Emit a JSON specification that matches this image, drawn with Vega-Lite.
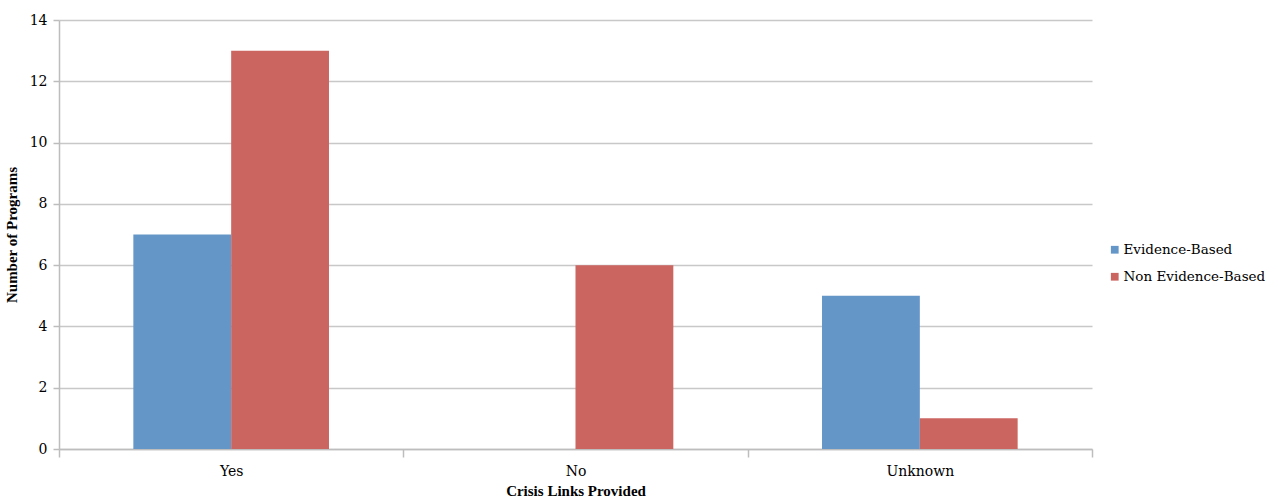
{
  "$schema": "https://vega.github.io/schema/vega-lite/v6.json",
  "width": 1033,
  "height": 429,
  "autosize": {"type": "none"},
  "padding": {"left": 59, "top": 20, "right": 180, "bottom": 54},
  "background": "white",
  "data": {
    "values": [
      {"category": "Yes", "type": "Evidence-Based", "count": 7},
      {"category": "Yes", "type": "Non Evidence-Based", "count": 13},
      {"category": "No", "type": "Evidence-Based", "count": 0},
      {"category": "No", "type": "Non Evidence-Based", "count": 6},
      {"category": "Unknown", "type": "Evidence-Based", "count": 5},
      {"category": "Unknown", "type": "Non Evidence-Based", "count": 1}
    ]
  },
  "config": {
    "font": "Liberation Serif",
    "view": {"stroke": null},
    "axis": {
      "labelFontSize": 14,
      "titleFontSize": 15,
      "labelColor": "#000000",
      "titleColor": "#000000",
      "domainColor": "#bdbdbd",
      "tickColor": "#bdbdbd",
      "gridColor": "#c8c8c8",
      "domainWidth": 1.5,
      "tickWidth": 1.5,
      "gridWidth": 1.5
    }
  },
  "mark": {"type": "bar"},
  "encoding": {
    "x": {
      "field": "category",
      "type": "nominal",
      "sort": ["Yes", "No", "Unknown"],
      "scale": {"paddingInner": 0, "paddingOuter": 0},
      "axis": {
        "title": "Crisis Links Provided",
        "titleFontWeight": "bold",
        "labelFont": "DejaVu Serif",
        "titleFont": "Liberation Serif",
        "labelAngle": 0,
        "labelPadding": 7,
        "titlePadding": 5,
        "tickBand": "extent",
        "tickSize": 8,
        "grid": false
      }
    },
    "xOffset": {
      "field": "type",
      "type": "nominal",
      "sort": ["Evidence-Based", "Non Evidence-Based"],
      "scale": {"paddingInner": 0, "paddingOuter": 0.76}
    },
    "y": {
      "field": "count",
      "type": "quantitative",
      "scale": {"domain": [0, 14]},
      "axis": {
        "title": "Number of Programs",
        "titleFontWeight": "bold",
        "labelFont": "DejaVu Serif",
        "titleFont": "Liberation Serif",
        "values": [0, 2, 4, 6, 8, 10, 12, 14],
        "tickSize": 6,
        "labelPadding": 6,
        "titlePadding": 10,
        "grid": true
      }
    },
    "color": {
      "field": "type",
      "type": "nominal",
      "sort": ["Evidence-Based", "Non Evidence-Based"],
      "scale": {"range": ["#6497C8", "#CB6560"]},
      "legend": {
        "title": null,
        "orient": "none",
        "legendX": 1049,
        "legendY": 223,
        "symbolType": "square",
        "symbolSize": 60,
        "symbolStrokeWidth": 0,
        "labelFont": "DejaVu Serif",
        "labelFontSize": 13.5,
        "labelColor": "#000000",
        "labelOffset": 2,
        "labelLimit": 200,
        "rowPadding": 12
      }
    }
  }
}
